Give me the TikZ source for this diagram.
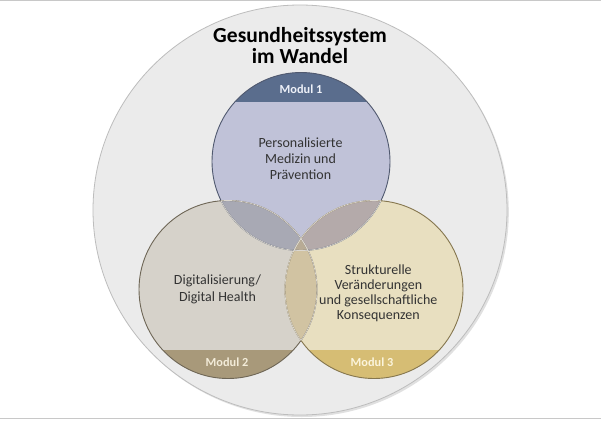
\documentclass[tikz,border=0pt]{standalone}
\usepackage{fontspec}
\setmainfont{Carlito}
\definecolor{framegray}{HTML}{C8C8C8}
\definecolor{outerfill}{HTML}{EBEBEB}
\definecolor{outerline}{HTML}{BDBDBD}
\definecolor{topfill}{HTML}{C0C2D8}
\definecolor{leftfill}{HTML}{D6D2CA}
\definecolor{rightfill}{HTML}{E8DFC0}
\definecolor{bandone}{HTML}{5A6D8D}
\definecolor{bandtwo}{HTML}{A8997A}
\definecolor{bandthree}{HTML}{D6BD74}
\definecolor{ovtl}{HTML}{A8A9B4}
\definecolor{ovtr}{HTML}{B4AAAA}
\definecolor{ovlr}{HTML}{D1C3A2}
\definecolor{ovall}{HTML}{B8AB95}
\definecolor{topline}{HTML}{50596F}
\definecolor{leftline}{HTML}{6E6656}
\definecolor{rightline}{HTML}{85764E}
\definecolor{innerline}{HTML}{DCD8D0}
\definecolor{bodytext}{HTML}{333333}
\definecolor{modtextone}{HTML}{EEF1F8}
\definecolor{modtexttwo}{HTML}{F3ECD9}
\definecolor{modtextthree}{HTML}{FBF4DC}
\begin{document}
\begin{tikzpicture}[x=1pt,y=-1pt,
  titlestyle/.style={font=\bfseries\fontsize{21.5}{20.6}\selectfont, text=black, align=center, anchor=base, inner sep=0pt},
  bodystyle/.style={text=bodytext, align=center, anchor=base, inner sep=0pt},
  modstyle/.style={font=\bfseries\fontsize{12.3}{14}\selectfont, anchor=base, inner sep=0pt},
  outl/.style={line width=0.9pt},
  innl/.style={draw=innerline, line width=0.7pt}]
\useasboundingbox (0,0) rectangle (601,420);
\fill[white] (0,0) rectangle (601,420);
\draw[framegray, line width=1.3pt] (0,0.8) -- (601,0.8);
\draw[framegray, line width=1.3pt] (0,418.7) -- (601,418.7);
% outer circle with faint shadow
\fill[black!12] (301.8,212) ellipse [x radius=207, y radius=205];
\filldraw[fill=outerfill, draw=outerline, line width=0.8pt] (300,210) ellipse [x radius=207, y radius=205];
% circle centres
\coordinate (cT) at (301,161.5);
\coordinate (cL) at (228,289.5);
\coordinate (cR) at (374,289.5);
\def\R{89}
% base fills
\fill[topfill] (cT) circle[radius=\R];
\fill[leftfill] (cL) circle[radius=\R];
\fill[rightfill] (cR) circle[radius=\R];
% bands
\begin{scope}\clip (cT) circle[radius=\R]; \fill[bandone] (200,60) rectangle (400,102); \end{scope}
\begin{scope}\clip (cL) circle[radius=\R]; \fill[bandtwo] (130,350) rectangle (330,390); \end{scope}
\begin{scope}\clip (cR) circle[radius=\R]; \fill[bandthree] (275,350) rectangle (475,390); \end{scope}
% overlaps
\begin{scope}\clip (cT) circle[radius=\R]; \fill[ovtl] (cL) circle[radius=\R]; \end{scope}
\begin{scope}\clip (cT) circle[radius=\R]; \fill[ovtr] (cR) circle[radius=\R]; \end{scope}
\begin{scope}\clip (cL) circle[radius=\R]; \fill[ovlr] (cR) circle[radius=\R]; \end{scope}
\begin{scope}\clip (cT) circle[radius=\R]; \clip (cL) circle[radius=\R]; \fill[ovall] (cR) circle[radius=\R]; \end{scope}
% outlines
\draw[outl, topline] (cT) circle[radius=\R];
\draw[outl, leftline] (cL) circle[radius=\R];
\draw[outl, rightline] (cR) circle[radius=\R];
% light inner arcs
\begin{scope}\clip (cL) circle[radius=\R]; \draw[innl] (cT) circle[radius=\R]; \draw[innl] (cR) circle[radius=\R]; \end{scope}
\begin{scope}\clip (cR) circle[radius=\R]; \draw[innl] (cT) circle[radius=\R]; \draw[innl] (cL) circle[radius=\R]; \end{scope}
\begin{scope}\clip (cT) circle[radius=\R]; \draw[innl] (cL) circle[radius=\R]; \draw[innl] (cR) circle[radius=\R]; \end{scope}
% texts (base anchor = baseline of the last line)
\node[titlestyle] (title) at (300,63.3) {Gesundheitssystem\\im Wandel};
\node[modstyle, text=modtextone] (mod1) at (301,93.3) {Modul 1};
\node[modstyle, text=modtexttwo] (mod2) at (227,366.7) {Modul 2};
\node[modstyle, text=modtextthree] (mod3) at (372,366.7) {Modul 3};
\node[bodystyle, font=\fontsize{14}{16}\selectfont] (toptext) at (300.5,179.3) {Personalisierte\\Medizin und\\Prävention};
\node[bodystyle, font=\fontsize{14}{16.7}\selectfont] (lefttext) at (217.5,301) {Digitalisierung/\\Digital Health};
\node[bodystyle, font=\fontsize{14}{15}\selectfont] (righttext) at (378.3,319.3) {Strukturelle\\Veränderungen\\und gesellschaftliche\\Konsequenzen};
\end{tikzpicture}
\end{document}
